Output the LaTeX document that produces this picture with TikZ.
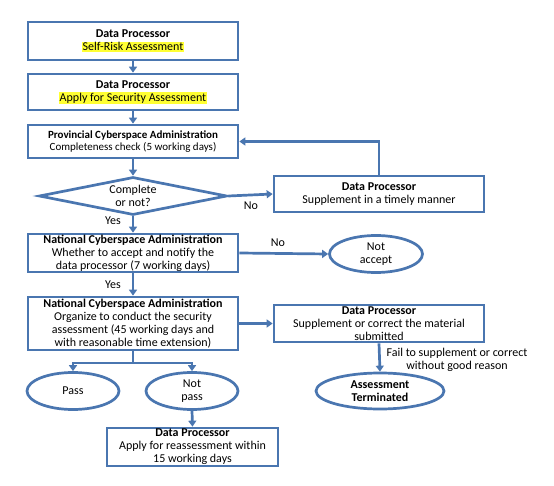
\documentclass[tikz,border=0pt]{standalone}
\usepackage{fontspec}
\setmainfont{Carlito}
\usetikzlibrary{shapes.geometric,arrows.meta}
\definecolor{flowblue}{HTML}{4A76B0}
\definecolor{hl}{HTML}{FFFF33}
\newcommand{\hlt}[1]{{\setlength{\fboxsep}{0.8pt}\colorbox{hl}{#1}}}
\tikzset{
  box/.style={draw=flowblue,line width=2.7pt,rectangle,inner sep=0pt,align=center,minimum width=210pt,font=\fontsize{12}{13}\selectfont},
  smallbox/.style={box,font=\fontsize{11}{12.5}\selectfont},
  oval/.style={draw=flowblue,line width=2.7pt,ellipse,inner sep=0pt,align=center,font=\fontsize{12}{13}\selectfont},
  decision/.style={draw=flowblue,line width=2.7pt,diamond,aspect=4.95,inner sep=0pt,align=center,minimum width=188pt,minimum height=38pt,font=\fontsize{12}{13}\selectfont},
  flow/.style={draw=flowblue,line width=2.7pt,-{Triangle[length=6pt,width=8pt]}},
  plain/.style={draw=flowblue,line width=2.7pt},
  lbl/.style={font=\fontsize{12}{13}\selectfont,inner sep=0pt,align=center}
}
\begin{document}
\begin{tikzpicture}[x=1pt,y=-1pt]
\useasboundingbox[fill=white] (0,0) rectangle (554,486);
\node[box,minimum height=38pt] (b1) at (133,41) {\textbf{Data Processor}\\\hlt{Self-Risk Assessment}};
\node[box,minimum height=36pt] (b2) at (133,92) {\textbf{Data Processor}\\\hlt{Apply for Security Assessment}};
\node[smallbox,minimum height=33pt] (b3) at (133,141.5) {\textbf{Provincial Cyberspace Administration}\\Completeness check (5 working days)};
\node[decision] (d) at (133,196) {Complete\\or not?};
\node[box,minimum height=36pt] (r1) at (379,194) {\textbf{Data Processor}\\Supplement in a timely manner};
\node[box,minimum height=38pt] (b4) at (133,253) {\textbf{National Cyberspace Administration}\\Whether to accept and notify the\\data processor (7 working days)};
\node[oval,minimum width=93pt,minimum height=37pt] (na) at (376,254) {Not\\accept};
\node[box,minimum height=53pt] (b5) at (133,323.5) {\textbf{National Cyberspace Administration}\\Organize to conduct the security\\assessment (45 working days and\\with reasonable time extension)};
\node[box,minimum height=37pt] (r2) at (379,323.5) {\textbf{Data Processor}\\Supplement or correct the material\\submitted};
\node[oval,minimum width=128pt,minimum height=36pt] (at) at (380,391) {\textbf{Assessment}\\\textbf{Terminated}};
\node[oval,minimum width=92pt,minimum height=37pt] (ps) at (73,391) {Pass};
\node[oval,minimum width=92pt,minimum height=37pt] (np) at (192,391) {Not\\pass};
\node[box,minimum width=171pt,minimum height=38pt] (b6) at (192.5,447) {\textbf{Data Processor}\\Apply for reassessment within\\15 working days};
\coordinate (br) at (133,363);
\draw[flow] (b1) -- (b2);
\draw[flow] (b2) -- (b3);
\draw[flow] (b3) -- (d);
\draw[flow] (d) -- (b4);
\draw[flow] (d.east) -- (r1.west);
\draw[flow] (r1.north) |- (b3.east);
\draw[flow] (b4.east) -- (na.west);
\draw[flow] (b4) -- (b5);
\draw[flow] (b5.east) -- (r2.west);
\draw[flow] (r2.south) -- (at.north);
\draw[plain] (b5.south) -- (br);
\draw[flow] (br) -| (ps.north);
\draw[flow] (br) -| (np.north);
\draw[flow] (np.south) -- (b6.north);
\node[lbl] (ly1) at (113,221) {Yes};
\node[lbl] (ln1) at (251,206) {No};
\node[lbl] (ln2) at (278,243) {No};
\node[lbl] (ly2) at (113,285) {Yes};
\node[lbl] (lf) at (457,360) {Fail to supplement or correct\\without good reason};
\end{tikzpicture}
\end{document}
